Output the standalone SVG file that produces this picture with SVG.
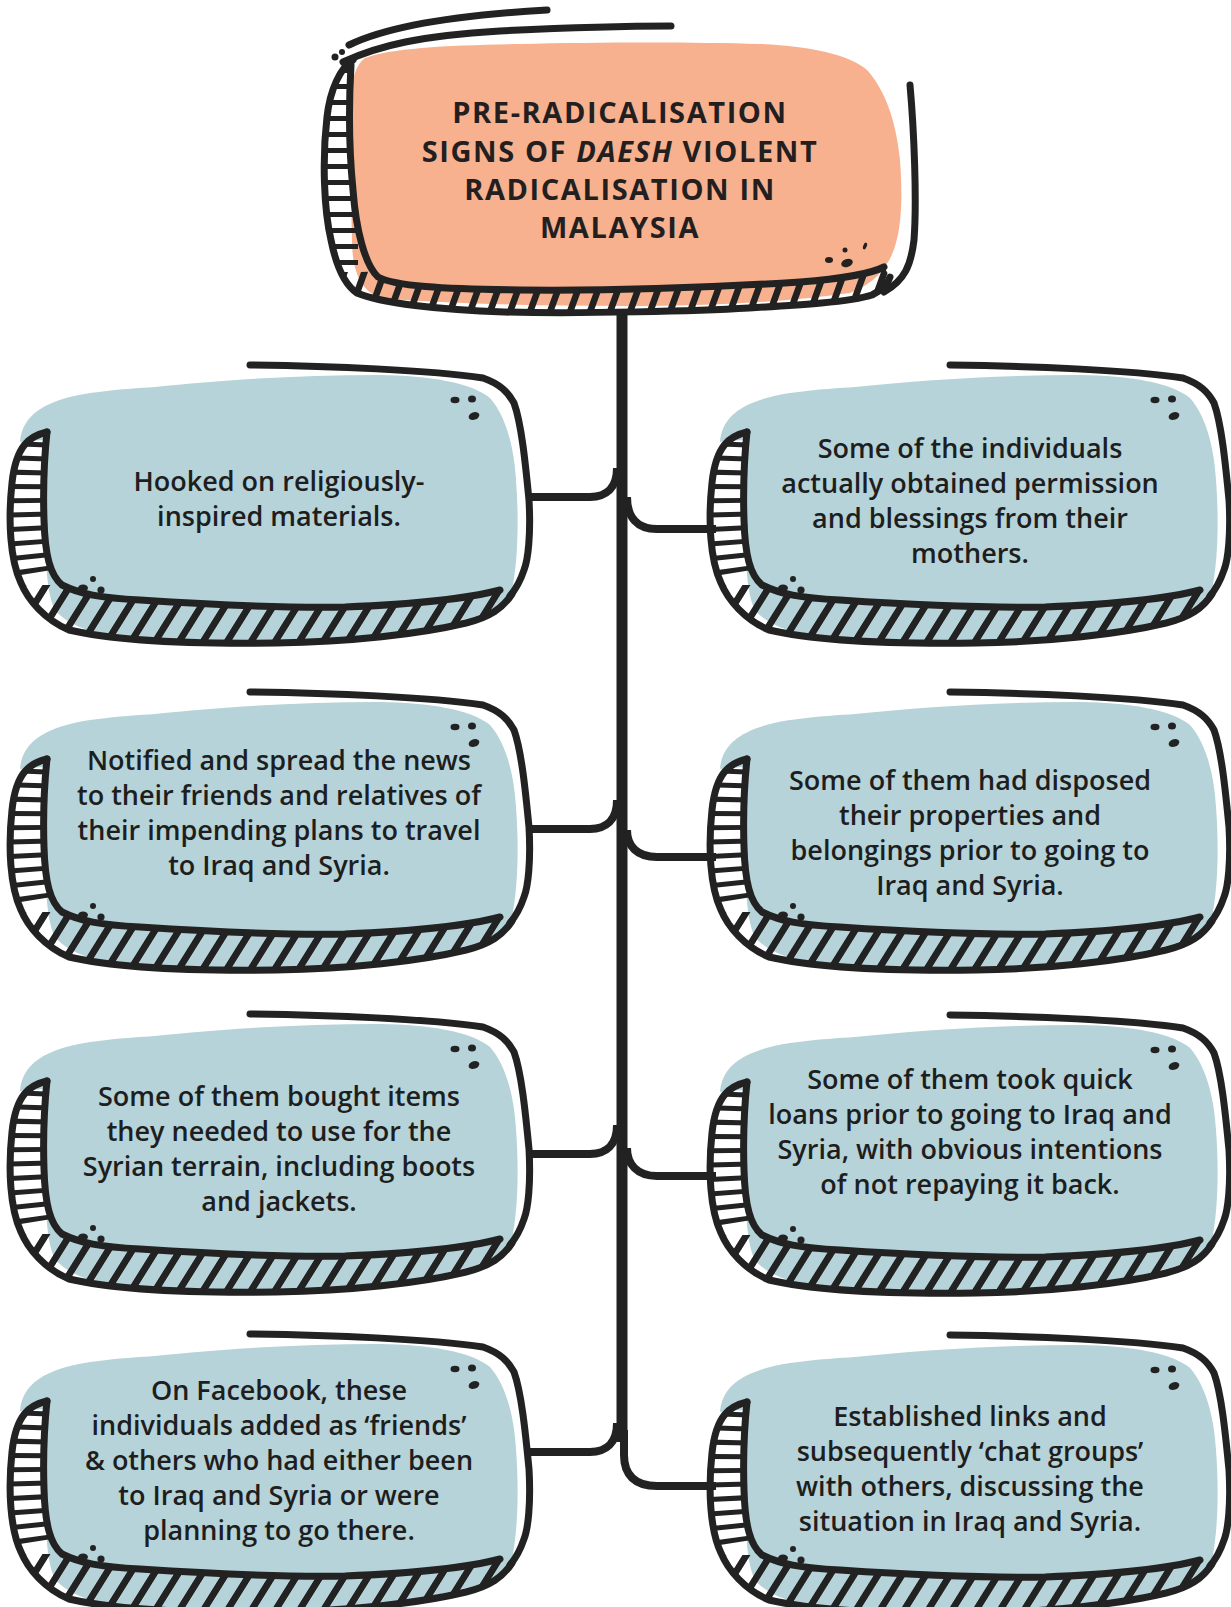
<svg xmlns="http://www.w3.org/2000/svg" xmlns:xlink="http://www.w3.org/1999/xlink" width="1231" height="1607" viewBox="0 0 1231 1607">
<style>
.ln{fill:none;stroke:#222;stroke-width:7;stroke-linecap:round;stroke-linejoin:round}
.hl{fill:none;stroke:#222;stroke-width:44;stroke-dasharray:5 9}
.dot{fill:#222}
.con{fill:none;stroke:#222;stroke-width:8;stroke-linecap:butt}
.title{font-family:"Open Sans","Liberation Sans",sans-serif;font-weight:700;font-size:29px;letter-spacing:1.6px;fill:#231f20;text-anchor:middle}
.body{font-family:"Open Sans","Liberation Sans",sans-serif;font-weight:600;font-size:27px;fill:#1e1e1e;text-anchor:middle}
</style>
<defs>
<pattern id="hatchB" patternUnits="userSpaceOnUse" width="24" height="200" patternTransform="skewX(-32)">
<rect x="0" y="0" width="8" height="200" fill="#222"/>
</pattern>
<pattern id="hatchT" patternUnits="userSpaceOnUse" width="20" height="200" patternTransform="skewX(-20)">
<rect x="0" y="0" width="7" height="200" fill="#222"/>
</pattern>
<clipPath id="bandClip" clipPathUnits="userSpaceOnUse">
<path d="M 47,432 C 30,436 16,445 12,483 C 8,520 10,560 21,583 C 28,600 45,620 69,630 C 120,642 200,644 276,643 C 350,642 420,634 466,623 C 490,617 503,608 512,594 L 500,590 C 470,598 420,604 345,607 C 280,608 200,604 140,600 C 100,598 80,594 62,585 C 50,575 45,555 44,520 C 43,490 44,460 47,432 Z"/>
</clipPath>
<clipPath id="topBandClip" clipPathUnits="userSpaceOnUse">
<path d="M 353,60 C 340,68 330,90 327,117 C 322,160 324,210 331,240 C 336,265 345,285 357,293 C 380,303 440,310 504,312 C 580,314 700,311 749,308 C 800,305 850,302 872,295 C 882,290 888,284 890,277 L 884,267 C 870,274 840,279 800,282 C 720,287 620,291 520,290 C 440,289 395,286 378,277 C 365,265 356,230 353,190 C 349,150 349,100 351,65 Z"/>
</clipPath>
<g id="nodeShape">
<path fill="#b5d3d9" d="M 20,442 C 22,415 45,400 90,393 C 120,389 140,388 155,387 C 220,380 300,375 379,375 C 430,376 470,382 490,398 C 505,415 514,445 516,480 C 519,520 518,560 512,590 C 505,605 490,612 470,618 C 430,628 400,634 345,638 C 280,642 200,642 140,639 C 100,636 70,628 55,610 C 47,595 45,560 45,520 C 45,490 46,465 47,440 C 38,440 28,441 20,442 Z"/>
<g clip-path="url(#bandClip)">
<path class="hl" d="M 30,428 C 27,480 27,540 34,578"/>
<path fill="url(#hatchB)" d="M 22,585 L 60,585 L 520,575 L 520,660 L 22,660 Z"/>
</g>
<path class="ln" d="M 47,432 C 30,436 16,445 12,483 C 8,520 10,560 21,583 C 28,600 45,620 69,630 C 120,642 200,644 276,643 C 350,642 420,634 466,623 C 490,617 503,608 512,594"/>
<path class="ln" d="M 47,432 C 44,460 43,490 44,520 C 45,555 50,575 62,585 C 80,594 100,598 140,600 C 200,604 280,608 345,607 C 420,604 470,598 500,590"/>
<path class="ln" d="M 250,365 C 330,366 430,370 483,378 C 500,384 508,392 514,403 C 522,425 526,470 529,500 C 531,535 528,560 524,570 C 520,582 515,590 510,596"/>
<ellipse class="dot" cx="455" cy="400" rx="4.5" ry="3.2"/>
<ellipse class="dot" cx="472" cy="399" rx="4" ry="3.6"/>
<ellipse class="dot" cx="474" cy="416" rx="5.5" ry="3.8" transform="rotate(-20 474 416)"/>
<ellipse class="dot" cx="83" cy="588" rx="5" ry="3.5"/>
<circle class="dot" cx="93" cy="579" r="3"/>
<circle class="dot" cx="101" cy="590" r="3.6"/>
</g>
</defs>

<g id="connectors">
<path d="M 622,310 L 622,1442" fill="none" stroke="#222" stroke-width="11"/>
<path class="con" d="M 529,497 L 590,497 C 606,497 617,488 617,468"/>
<path class="con" d="M 627,497 C 627,517 637,529 657,529 L 716,529"/>
<path class="con" d="M 529,829 L 590,829 C 606,829 617,820 617,800"/>
<path class="con" d="M 627,830 C 627,846 637,857 657,857 L 716,857"/>
<path class="con" d="M 529,1154 L 590,1154 C 606,1154 617,1145 617,1125"/>
<path class="con" d="M 627,1148 C 627,1164 637,1176 657,1176 L 716,1176"/>
<path class="con" d="M 529,1452 L 590,1452 C 606,1452 617,1443 617,1423"/>
<path class="con" d="M 624,1430 L 624,1455 C 624,1475 635,1486 657,1486 L 716,1486"/>
</g>

<g id="node-title">
<path fill="#f8b18e" d="M 351,100 C 352,80 355,65 365,58 C 390,48 450,45 520,44 C 600,42 700,42 760,44 C 810,46 850,55 867,70 C 885,90 896,120 900,160 C 903,200 902,240 888,262 C 880,275 870,285 850,293 C 780,303 700,306 627,306 C 540,306 450,304 380,298 C 360,290 352,270 352,240 C 351,190 350,140 351,100 Z"/>
<g clip-path="url(#topBandClip)">
<path fill="none" stroke="#222" stroke-width="40" stroke-dasharray="5 11" d="M 338,68 L 338,270"/>
<path fill="url(#hatchT)" d="M 320,272 L 360,272 L 900,255 L 900,330 L 320,330 Z"/>
</g>
<path class="ln" d="M 353,60 C 340,68 330,90 327,117 C 322,160 324,210 331,240 C 336,265 345,285 357,293 C 380,303 440,310 504,312 C 580,314 700,311 749,308 C 800,305 850,302 872,295 C 882,290 888,284 890,277"/>
<path class="ln" d="M 351,65 C 349,100 349,150 353,190 C 356,230 365,265 378,277 C 395,286 440,289 520,290 C 620,291 720,287 800,282 C 840,279 870,274 884,267"/>
<path class="ln" d="M 910,85 C 914,130 917,200 914,240 C 911,265 905,280 884,292"/>
<path class="ln" d="M 349,45 C 380,30 440,16 547,10"/>
<path class="ln" d="M 343,62 C 380,45 420,36 500,31 C 580,27 630,26 671,26"/>
<circle class="dot" cx="335" cy="57" r="3.5"/>
<circle class="dot" cx="342" cy="52" r="3"/>
<ellipse class="dot" cx="829" cy="260" rx="4" ry="3"/>
<circle class="dot" cx="845" cy="250" r="2.5"/>
<ellipse class="dot" cx="847" cy="263" rx="6" ry="4" transform="rotate(-20 847 263)"/>
<ellipse class="dot" cx="865" cy="246" rx="1.8" ry="3.5" transform="rotate(20 865 246)"/>
<text class="title" x="620" y="123">PRE-RADICALISATION</text>
<text class="title" x="620" y="162">SIGNS OF <tspan font-style="italic">DAESH</tspan> VIOLENT</text>
<text class="title" x="620" y="200">RADICALISATION IN</text>
<text class="title" x="620" y="238">MALAYSIA</text>
</g>

<g id="node-l1">
<use href="#nodeShape" xlink:href="#nodeShape"/>
<text class="body" x="279" y="491">Hooked on religiously-</text>
<text class="body" x="279" y="526">inspired materials.</text>
</g>
<g id="node-r1">
<use href="#nodeShape" xlink:href="#nodeShape" transform="translate(700,0)"/>
<text class="body" x="970" y="458">Some of the individuals</text>
<text class="body" x="970" y="493">actually obtained permission</text>
<text class="body" x="970" y="528">and blessings from their</text>
<text class="body" x="970" y="563">mothers.</text>
</g>
<g id="node-l2">
<use href="#nodeShape" xlink:href="#nodeShape" transform="translate(0,327)"/>
<text class="body" x="279" y="770">Notified and spread the news</text>
<text class="body" x="279" y="805">to their friends and relatives of</text>
<text class="body" x="279" y="840">their impending plans to travel</text>
<text class="body" x="279" y="875">to Iraq and Syria.</text>
</g>
<g id="node-r2">
<use href="#nodeShape" xlink:href="#nodeShape" transform="translate(700,327)"/>
<text class="body" x="970" y="790">Some of them had disposed</text>
<text class="body" x="970" y="825">their properties and</text>
<text class="body" x="970" y="860">belongings prior to going to</text>
<text class="body" x="970" y="895">Iraq and Syria.</text>
</g>
<g id="node-l3">
<use href="#nodeShape" xlink:href="#nodeShape" transform="translate(0,649)"/>
<text class="body" x="279" y="1106">Some of them bought items</text>
<text class="body" x="279" y="1141">they needed to use for the</text>
<text class="body" x="279" y="1176">Syrian terrain, including boots</text>
<text class="body" x="279" y="1211">and jackets.</text>
</g>
<g id="node-r3">
<use href="#nodeShape" xlink:href="#nodeShape" transform="translate(700,650)"/>
<text class="body" x="970" y="1089">Some of them took quick</text>
<text class="body" x="970" y="1124">loans prior to going to Iraq and</text>
<text class="body" x="970" y="1159">Syria, with obvious intentions</text>
<text class="body" x="970" y="1194">of not repaying it back.</text>
</g>
<g id="node-l4">
<use href="#nodeShape" xlink:href="#nodeShape" transform="translate(0,969)"/>
<text class="body" x="279" y="1400">On Facebook, these</text>
<text class="body" x="279" y="1435">individuals added as ‘friends’</text>
<text class="body" x="279" y="1470">&amp; others who had either been</text>
<text class="body" x="279" y="1505">to Iraq and Syria or were</text>
<text class="body" x="279" y="1540">planning to go there.</text>
</g>
<g id="node-r4">
<use href="#nodeShape" xlink:href="#nodeShape" transform="translate(700,970)"/>
<text class="body" x="970" y="1426">Established links and</text>
<text class="body" x="970" y="1461">subsequently ‘chat groups’</text>
<text class="body" x="970" y="1496">with others, discussing the</text>
<text class="body" x="970" y="1531">situation in Iraq and Syria.</text>
</g>
</svg>
